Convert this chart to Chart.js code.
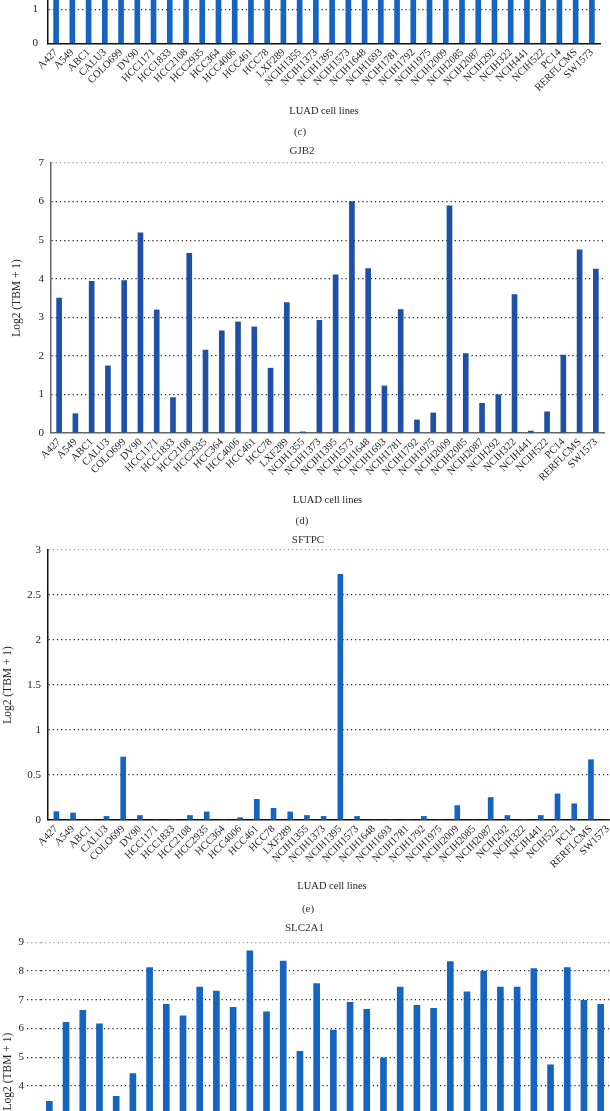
<!DOCTYPE html>
<html>
<head>
<meta charset="utf-8">
<title>LUAD cell lines</title>
<script src="https://cdn.jsdelivr.net/npm/chart.js@4.4.1/dist/chart.umd.min.js"></script>
<style>
  html, body { margin: 0; padding: 0; background: #fff; }
  body { width: 610px; height: 1111px; overflow: hidden; position: relative; }
  canvas { position: absolute; left: 0; }
</style>
</head>
<body>
<canvas id="chartC" width="604" height="396" style="top:-255px"></canvas>
<canvas id="chartD" width="608" height="390" style="top:140px"></canvas>
<canvas id="chartE" width="620" height="393" style="top:525px"></canvas>
<canvas id="chartF" width="613" height="358" style="top:916px"></canvas>
<script>
// cell lines on every x axis
const cellLines = ['A427', 'A549', 'ABC1', 'CALU3', 'COLO699', 'DV90', 'HCC1171', 'HCC1833',
  'HCC2108', 'HCC2935', 'HCC364', 'HCC4006', 'HCC461', 'HCC78', 'LXF289', 'NCIH1355',
  'NCIH1373', 'NCIH1395', 'NCIH1573', 'NCIH1648', 'NCIH1693', 'NCIH1781', 'NCIH1792',
  'NCIH1975', 'NCIH2009', 'NCIH2085', 'NCIH2087', 'NCIH292', 'NCIH322', 'NCIH441',
  'NCIH522', 'PC14', 'RERFLCMS', 'SW1573'];

// panel (c): only the bottom of the bars is visible, tops are estimated
const panelCValues = [4.6, 5.8, 6.1, 5.3, 4.2, 6.4, 5.9, 5.1, 6.7, 4.8, 5.5, 6.2, 5.0, 4.4, 5.7, 6.0, 5.2,
  4.9, 6.3, 5.6, 4.7, 5.4, 6.5, 5.8, 5.1, 4.6, 6.1, 5.3, 5.9, 4.5, 6.0, 5.5, 4.8, 6.6];

const gjb2Values = [3.5, 0.5, 3.93, 1.74, 3.95, 5.19, 3.19, 0.92, 4.66, 2.15, 2.65, 2.88, 2.75, 1.68,
  3.38, 0.03, 2.92, 4.1, 6.0, 4.26, 1.22, 3.2, 0.34, 0.52, 5.89, 2.06, 0.77, 0.99, 3.59, 0.05,
  0.55, 2.02, 4.75, 4.25];

const sftpcValues = [0.093, 0.078, 0, 0.04, 0.7, 0.05, 0, 0, 0.05, 0.09, 0, 0.026, 0.23, 0.13, 0.09,
  0.05, 0.04, 2.73, 0.04, 0, 0, 0, 0.04, 0, 0.16, 0, 0.25, 0.05, 0, 0.05, 0.29, 0.18, 0.67, 0];

const slc2a1Values = [3.47, 6.22, 6.63, 6.16, 3.64, 4.43, 8.12, 6.84, 6.44, 7.44, 7.3, 6.74, 8.7, 6.58,
  8.35, 5.21, 7.56, 5.95, 6.91, 6.67, 4.98, 7.44, 6.81, 6.7, 8.33, 7.28, 8.0, 7.44, 7.44, 8.09,
  4.74, 8.12, 6.98, 6.84];

Chart.defaults.font.family = "'Liberation Serif', 'DejaVu Serif', serif";
Chart.defaults.color = '#222';

function drawPanel(id, o) {
  const ctx = document.getElementById(id).getContext('2d');
  return new Chart(ctx, {
    type: 'bar',
    data: {
      labels: cellLines,
      datasets: [{
        data: o.values,
        backgroundColor: o.color,
        barThickness: o.barWidth
      }]
    },
    options: {
      responsive: false,
      animation: false,
      layout: { padding: { top: o.padTop || 0, right: 4, left: 0, bottom: 0 } },
      plugins: {
        legend: { display: false },
        tooltip: { enabled: false },
        title: {
          display: !!o.title,
          text: o.title || '',
          color: '#333',
          font: { size: 11, weight: 'normal' },
          padding: { top: o.titlePad ? o.titlePad[0] : 0, bottom: o.titlePad ? o.titlePad[1] : 0 }
        },
        subtitle: {
          display: !!o.panel,
          position: 'bottom',
          text: o.panel || '',
          color: '#333',
          font: { size: 11 },
          padding: { top: o.panelPad ? o.panelPad[0] : 0, bottom: o.panelPad ? o.panelPad[1] : 0 }
        }
      },
      scales: {
        x: {
          grid: { display: false, drawTicks: false },
          border: { display: o.xBorder, color: o.axisColor, width: 1.5 },
          ticks: { autoSkip: false, minRotation: 45, maxRotation: 45, padding: 3, font: { size: 10.5 } },
          title: {
            display: true, text: 'LUAD cell lines', font: { size: 10.5 },
            padding: { top: 0, bottom: 0 }
          },
          afterFit: function(scale) { scale.height = o.xHeight; }
        },
        y: {
          min: 0,
          max: o.max,
          ticks: {
            stepSize: o.step,
            padding: o.tickPad,
            font: { size: 11 },
            callback: function(v) { return String(v); }
          },
          grid: {
            color: function(c) {
              if (!c.tick) return '#222';
              if (c.tick.value === 0) return 'rgba(0,0,0,0)';
              if (c.tick.value === o.max) return '#999';
              return '#222';
            },
            lineWidth: 1.2,
            drawTicks: !!o.tickLen,
            tickLength: o.tickLen || 0,
            tickBorderDash: [1.2, 3]
          },
          border: { display: o.yBorder, color: o.axisColor, width: 1.5, dash: [1.2, 3] },
          title: {
            display: true, text: 'Log2 (TBM + 1)', font: { size: 11.5 },
            padding: { top: o.yTitlePad, bottom: 0 }
          },
          afterFit: function(scale) { scale.width = o.yWidth; }
        }
      }
    }
  });
}

drawPanel('chartC', {
  values: panelCValues, color: '#1565c0', barWidth: 5, max: 8, step: 1,
  padTop: 26.3, xHeight: 74, panel: '(c)', panelPad: [8.1, 2.4],
  yWidth: 48, tickPad: 10, yTitlePad: 1.1, xBorder: true, yBorder: true, axisColor: '#111'
});

drawPanel('chartD', {
  values: gjb2Values, color: '#1e50a5', barWidth: 5, max: 7, step: 1,
  title: 'GJB2', titlePad: [4.4, 5.4], xHeight: 73.3, panel: '(d)', panelPad: [8.1, 2.4],
  yWidth: 51, tickPad: 7, yTitlePad: 10.1, xBorder: true, yBorder: true, axisColor: '#666'
});

drawPanel('chartE', {
  values: sftpcValues, color: '#1565c0', barWidth: 5, max: 3, step: 0.5,
  title: 'SFTPC', titlePad: [8.4, 3.4], xHeight: 73, panel: '(e)', panelPad: [9.4, 2.4],
  yWidth: 48, tickPad: 7, yTitlePad: 1.1, xBorder: true, yBorder: true, axisColor: '#111'
});

drawPanel('chartF', {
  values: slc2a1Values, color: '#1565c0', barWidth: 6, max: 9, step: 1,
  title: 'SLC2A1', titlePad: [5.7, 7.4], xHeight: 73,
  yWidth: 41, tickPad: 3, tickLen: 14, yTitlePad: 1.1, xBorder: false, yBorder: false, axisColor: '#111'
});
</script>
</body>
</html>
